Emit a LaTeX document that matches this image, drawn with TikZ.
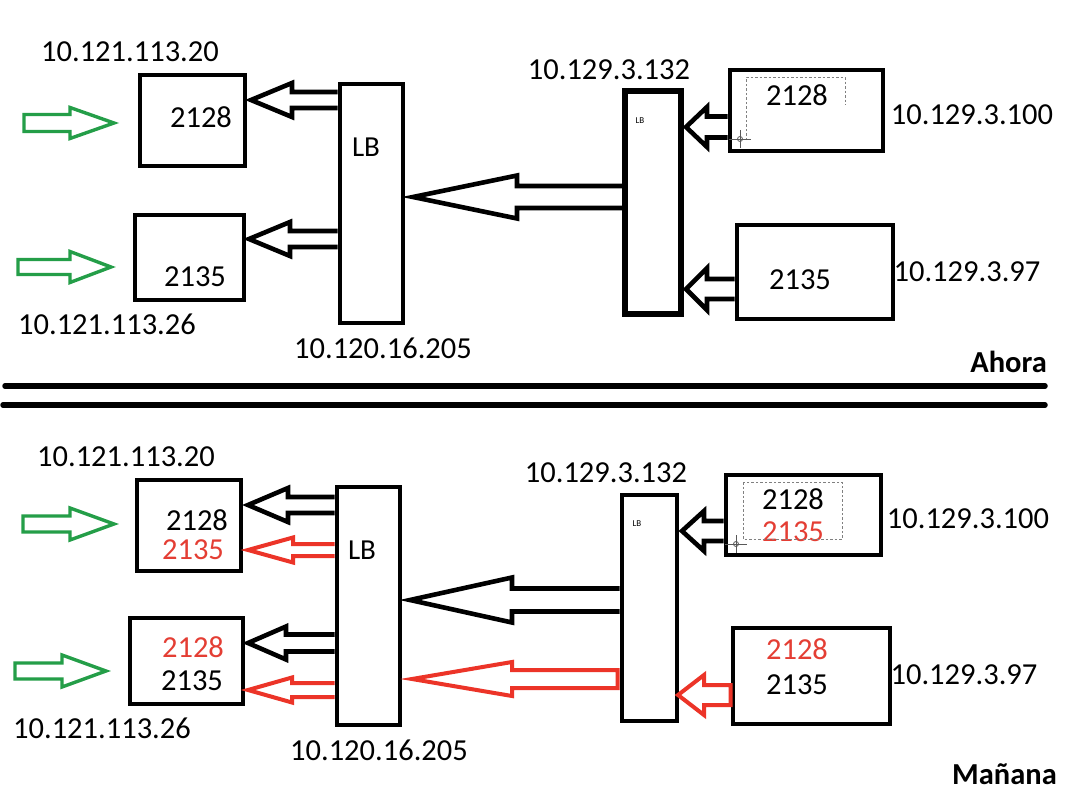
\documentclass[tikz,border=0pt]{standalone}
\usepackage{fontspec}
\setmainfont{Carlito}
\usetikzlibrary{calc}
\definecolor{grn}{RGB}{36,158,72}
\definecolor{rd}{RGB}{236,52,40}
\definecolor{rdt}{RGB}{228,62,52}
\newcommand{\harrow}[7]{%
  \draw[#1] ($(#2)+(0,-#6)$) -- ($(#3)+(#4,-#6)$) -- ($(#3)+(#4,-#5)$) -- (#3)
    -- ($(#3)+(#4,#5)$) -- ($(#3)+(#4,#6)$) -- ($(#2)+(0,#6)$) #7;}
\begin{document}
\begin{tikzpicture}[x=1pt,y=-1pt,
  box/.style={draw=black,line width=4.6pt,inner sep=0pt,fill=none},
  lbl/.style={font=\fontsize{30.5}{36}\selectfont,inner sep=0pt},
  lbbig/.style={font=\fontsize{29}{34}\selectfont,inner sep=0pt},
  small/.style={font=\fontsize{9}{10}\selectfont,inner sep=0pt},
  ttl/.style={font=\fontsize{30.5}{36}\selectfont\bfseries,inner sep=0pt,anchor=base east},
  blk/.style={draw=black,line width=4.6pt,line join=miter},
  red/.style={draw=rd,line width=4pt,line join=miter},
  green/.style={draw=grn,line width=3.4pt,line join=miter},
  sep/.style={line width=5.5pt,line cap=round},
  selbox/.style={draw=gray,line width=0.8pt,dash pattern=on 2.5pt off 2pt},
  cross/.style={draw=gray!70!black,line width=0.8pt}]
\useasboundingbox (0,0) rectangle (1072,806);
\fill[white] (0,0) rectangle (1072,806);

% ================= TOP (Ahora) =================
\node[box,minimum width=105pt,minimum height=91pt] (a1) at (192.5,120.5) {};
\node[box,minimum width=109pt,minimum height=85pt] (a2) at (189.5,257.5) {};
\node[box,minimum width=63pt,minimum height=239pt] (lbA) at (371.5,203.5) {};
\node[box,line width=6.5pt,minimum width=56pt,minimum height=223pt] (lbB) at (653,202.5) {};
\node[box,minimum width=153pt,minimum height=81pt] (r1) at (806.5,110.5) {};
\node[box,minimum width=156pt,minimum height=94pt] (r2) at (815,272) {};

\node[lbl] (ta1ip) at (130,52) {10.121.113.20};
\node[lbl] (ta1) at (201,117) {2128};
\node[lbl] (ta2) at (195,277) {2135};
\node[lbl] (ta2ip) at (107,324) {10.121.113.26};
\node[lbbig] (tlbA) at (366,147) {LB};
\node[lbl] (tlbAip) at (383,348) {10.120.16.205};
\node[lbl] (tlbBip) at (609,70) {10.129.3.132};
\node[small] (tlbB) at (640,121) {LB};
\node[lbl] (tr1) at (797,95) {2128};
\node[lbl] (tr1ip) at (972,115) {10.129.3.100};
\node[lbl] (tr2) at (800,280) {2135};
\node[lbl] (tr2ip) at (967,272) {10.129.3.97};
\node[ttl] (tahora) at (1047,372) {Ahora};

% dashed selection + crosshair
\draw[selbox] (746,140) -- (746,77) -- (845,77) -- (845,105);
\draw[cross] (740,139) circle (2.5pt);
\draw[cross] (729,139) -- (751,139) (740,130) -- (740,148);

% arrows top
\coordinate (p1t) at (251,100); \coordinate (p1b) at (lbA.west |- p1t);
\harrow{blk}{p1b}{p1t}{41}{17}{8}{}
\coordinate (p2t) at (249,239); \coordinate (p2b) at (lbA.west |- p2t);
\harrow{blk}{p2b}{p2t}{41}{17}{8}{}
\coordinate (p3t) at (413,197); \coordinate (p3b) at (lbB.west |- p3t);
\harrow{blk}{p3b}{p3t}{104}{21.5}{11}{}
\coordinate (p4t) at (686,127); \coordinate (p4b) at (r1.west |- p4t);
\harrow{blk}{p4b}{p4t}{21}{20}{10.5}{}
\coordinate (p5t) at (686,289); \coordinate (p5b) at (r2.west |- p5t);
\harrow{blk}{p5b}{p5t}{21}{21}{10}{}
\coordinate (g1t) at (114,123); \coordinate (g1b) at (24,123);
\harrow{green}{g1b}{g1t}{-44}{15.5}{8.5}{-- cycle}
\coordinate (g2t) at (111,267); \coordinate (g2b) at (18,267);
\harrow{green}{g2b}{g2t}{-41}{15.5}{7.5}{-- cycle}

% separators
\coordinate (s1a) at (5,386); \coordinate (s1b) at (1045,386);
\coordinate (s2a) at (3,405); \coordinate (s2b) at (1045,405);
\draw[sep] (s1a) -- (s1b);
\draw[sep] (s2a) -- (s2b);

% ================= BOTTOM (Manana) =================
\node[box,minimum width=104pt,minimum height=91pt] (b1) at (189,525.5) {};
\node[box,minimum width=113pt,minimum height=86pt] (b2) at (186.5,661) {};
\node[box,minimum width=63pt,minimum height=238pt] (lbC) at (368.5,606) {};
\node[box,minimum width=55pt,minimum height=226pt] (lbD) at (649.5,608) {};
\node[box,minimum width=155pt,minimum height=80pt] (s1) at (803.5,515) {};
\node[box,minimum width=157pt,minimum height=96pt] (s2) at (811.5,676) {};

\node[lbl] (tb1ip) at (126,457) {10.121.113.20};
\node[lbl] (tb1a) at (197,520) {2128};
\node[lbl,text=rdt] (tb1b) at (193,550) {2135};
\node[lbl,text=rdt] (tb2a) at (193,647) {2128};
\node[lbl] (tb2b) at (192,681) {2135};
\node[lbl] (tb2ip) at (102,728) {10.121.113.26};
\node[lbbig] (tlbC) at (362,550) {LB};
\node[lbl] (tlbCip) at (379,750) {10.120.16.205};
\node[lbl] (tlbDip) at (606,473) {10.129.3.132};
\node[small] (tlbD) at (637,524) {LB};
\node[lbl] (ts1a) at (793,499) {2128};
\node[lbl,text=rdt] (ts1b) at (793,532) {2135};
\node[lbl] (ts1ip) at (968,519) {10.129.3.100};
\node[lbl,text=rdt] (ts2a) at (797,649) {2128};
\node[lbl] (ts2b) at (797,685) {2135};
\node[lbl] (ts2ip) at (964,675) {10.129.3.97};
\node[ttl] (tmanana) at (1057,784) {Mañana};

\draw[selbox] (743,482) rectangle (842,539);
\draw[cross] (736,544) circle (2.5pt);
\draw[cross] (725,544) -- (747,544) (736,535) -- (736,553);

% arrows bottom
\coordinate (q1t) at (248,505); \coordinate (q1b) at (lbC.west |- q1t);
\harrow{blk}{q1b}{q1t}{40}{17}{8}{}
\coordinate (q2t) at (248,550); \coordinate (q2b) at (lbC.west |- q2t);
\harrow{red}{q2b}{q2t}{45}{12.5}{6}{}
\coordinate (q3t) at (248,643); \coordinate (q3b) at (lbC.west |- q3t);
\harrow{blk}{q3b}{q3t}{38}{16.5}{8.5}{}
\coordinate (q4t) at (248,690); \coordinate (q4b) at (lbC.west |- q4t);
\harrow{red}{q4b}{q4t}{44}{12.5}{7}{}
\coordinate (q5t) at (410,600); \coordinate (q5b) at (lbD.west |- q5t);
\harrow{blk}{q5b}{q5t}{102}{22.5}{11.5}{}
\coordinate (q6t) at (412,679); \coordinate (q6b) at ([xshift=-2pt]lbD.west |- q6t);
\harrow{red}{q6b}{q6t}{100}{17}{9}{-- cycle}
\coordinate (q7t) at (682,531); \coordinate (q7b) at (s1.west |- q7t);
\harrow{blk}{q7b}{q7t}{22}{20}{10}{}
\coordinate (q8t) at (678,695); \coordinate (q8b) at (s2.west |- q8t);
\harrow{red}{q8b}{q8t}{26}{20}{10}{-- cycle}
\coordinate (h1t) at (114,524); \coordinate (h1b) at (23,524);
\harrow{green}{h1b}{h1t}{-44}{16}{8}{-- cycle}
\coordinate (h2t) at (106,671); \coordinate (h2b) at (15,671);
\harrow{green}{h2b}{h2t}{-44}{16}{8}{-- cycle}
\end{tikzpicture}
\end{document}
